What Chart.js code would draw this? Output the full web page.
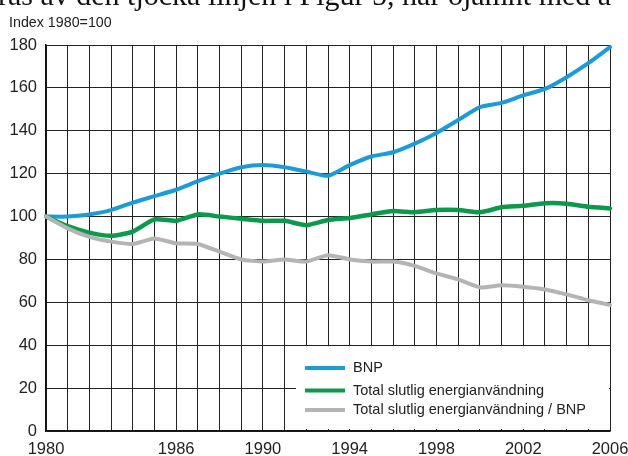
<!DOCTYPE html>
<html>
<head>
<meta charset="utf-8">
<script src="https://cdn.jsdelivr.net/npm/chart.js@4"></script>
<style>
  html, body { margin: 0; padding: 0; background: #fff; }
  #wrap { width: 628px; height: 456px; position: relative; }
</style>
</head>
<body>
<div id="wrap"><canvas id="chart" width="628" height="456"></canvas></div>
<script>
const years = ['1980', '1981', '1982', '1983', '1984', '1985', '1986', '1987', '1988', '1989',
  '1990', '1991', '1992', '1993', '1994', '1995', '1996', '1997', '1998', '1999',
  '2000', '2001', '2002', '2003', '2004', '2005', '2006']
const shownYears = ['1980', '1986', '1990', '1994', '1998', '2002', '2006']

const bnp = [100, 100, 101, 103, 106.5, 109.5, 112.5, 116.5, 120, 123, 124, 123, 121, 119,
  124, 128, 130, 134, 139, 145, 151, 153, 156.5, 159.5, 165, 171.5, 179]
const energy = [100, 95.5, 92.5, 91, 93, 98.7, 98, 101, 100, 99, 98, 98, 96, 98.4,
  99.3, 101, 102.6, 102, 103, 103, 102, 104.3, 105, 106.2, 106, 104.6, 103.8]
const intensity = [100, 94.5, 90.5, 88.3, 87.2, 89.8, 87.5, 87.2, 83.6, 80, 79, 80, 79, 82,
  80, 79, 79, 77, 73.5, 70.7, 67, 68, 67.3, 66, 63.7, 61, 58.8]

const seriesLabels = ['BNP', 'Total slutlig energianvändning', 'Total slutlig energianvändning / BNP']
const seriesColors = ['#1b9bd7', '#0b9a4b', '#b4b4b4']

const sans = '"Liberation Sans", Arial, sans-serif'

// header text, boxed legend in the lower right corner
const decorations = {
  id: 'decorations',
  afterDraw (chart) {
    const { ctx, chartArea, scales } = chart
    ctx.save()
    ctx.fillStyle = '#111'
    ctx.textBaseline = 'alphabetic'
    ctx.font = '30px "Liberation Serif", "Times New Roman", serif'
    ctx.fillText('ras av den tjocka linjen i Figur 5, har ojämnt med a', -2, 5)
    ctx.font = '15.5px ' + sans
    ctx.fillStyle = '#222'
    ctx.save()
    ctx.translate(9, 27)
    ctx.scale(0.92, 1)
    ctx.fillText('Index 1980=100', 0, 0)
    ctx.restore()

    // legend box covers the grid from 0 to 40
    const top = scales.y.getPixelForValue(40)
    const bottom = chartArea.bottom - 2
    const left = 296
    ctx.fillStyle = '#fff'
    ctx.fillRect(left, top + 1, chartArea.right - left - 1, bottom - top - 1)

    const rows = [368, 390.5, 410]
    ctx.font = '14.5px ' + sans
    ctx.textBaseline = 'middle'
    seriesLabels.forEach((label, i) => {
      ctx.strokeStyle = seriesColors[i]
      ctx.lineWidth = 4
      ctx.beginPath()
      ctx.moveTo(305, rows[i])
      ctx.lineTo(345, rows[i])
      ctx.stroke()
      ctx.fillStyle = '#222'
      ctx.fillText(label, 353, rows[i])
    })
    ctx.restore()
  }
}

const makeSet = (label, data, color, width) => ({
  label,
  data,
  borderColor: color,
  backgroundColor: color,
  borderWidth: width,
  pointRadius: 0,
  tension: 0.2,
  borderCapStyle: 'round',
  borderJoinStyle: 'round'
})

new Chart(document.getElementById('chart').getContext('2d'), {
  type: 'line',
  data: {
    labels: years,
    datasets: [
      makeSet(seriesLabels[2], intensity, seriesColors[2], 4),
      makeSet(seriesLabels[1], energy, seriesColors[1], 4.5),
      makeSet(seriesLabels[0], bnp, seriesColors[0], 4)
    ]
  },
  options: {
    responsive: false,
    animation: false,
    layout: { padding: { top: 45, right: 18, left: 0, bottom: 0 } },
    plugins: {
      legend: { display: false },
      tooltip: { enabled: false }
    },
    scales: {
      x: {
        offset: false,
        afterFit: (scale) => {
          scale.height = 25
          scale.paddingLeft = 0
          scale.paddingRight = 0
        },
        grid: { color: '#222', lineWidth: 1, drawTicks: false },
        border: { color: '#111', width: 1.5 },
        ticks: {
          autoSkip: false,
          maxRotation: 0,
          padding: 9,
          color: '#222',
          font: { family: sans, size: 16.5 },
          callback (value) {
            const y = this.getLabelForValue(value)
            return shownYears.includes(y) ? y : ''
          }
        }
      },
      y: {
        min: 0,
        max: 180,
        afterFit: (scale) => {
          scale.width = 46
          scale.paddingTop = 0
          scale.paddingBottom = 0
        },
        grid: { color: '#222', lineWidth: 1, drawTicks: false },
        border: { color: '#111', width: 1.5 },
        ticks: {
          stepSize: 20,
          padding: 9,
          color: '#222',
          font: { family: sans, size: 16.5 }
        }
      }
    }
  },
  plugins: [decorations]
})
</script>
</body>
</html>
